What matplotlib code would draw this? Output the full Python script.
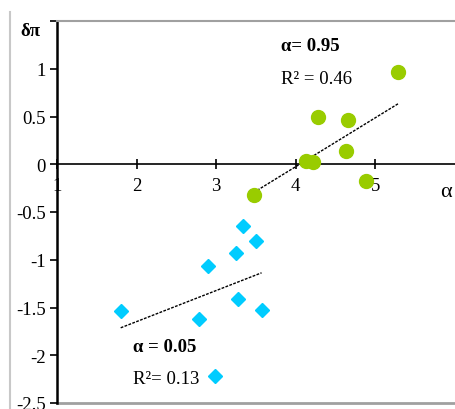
import numpy as np
import matplotlib
matplotlib.use("Agg")
import matplotlib.pyplot as plt
from matplotlib.lines import Line2D

# green group (alpha = 0.95)
green_x = [3.47, 4.13, 4.22, 4.28, 4.65, 4.63, 4.88, 5.29]
green_y = [-0.32, 0.03, 0.02, 0.50, 0.46, 0.14, -0.18, 0.97]

# blue group (alpha = 0.05)
blue_x = [1.80, 2.90, 2.78, 2.99, 3.34, 3.50, 3.25, 3.27, 3.57]
blue_y = [-1.54, -1.07, -1.62, -2.22, -0.65, -0.80, -0.93, -1.41, -1.53]

x_ticks = [1, 2, 3, 4, 5]
y_ticks = [-2.5, -2, -1.5, -1, -0.5, 0, 0.5, 1, 1.5]
y_labels = ["-2.5", "-2", "-1.5", "-1", "-0.5", "0", "0.5", "1", ""]

plt.rcParams["font.family"] = ["Liberation Serif", "DejaVu Serif"]

fig = plt.figure(figsize=(4.55, 4.10), dpi=100)
ax = fig.add_axes([57 / 455, 1 - 404 / 410, 1 - 57 / 455, (404 - 22) / 410])

ax.set_xlim(1, 6)
ax.set_ylim(-2.5, 1.5)

# trend lines (least squares, like the spreadsheet trendline)
for xs, ys in [(green_x, green_y), (blue_x, blue_y)]:
    k, b = np.polyfit(xs, ys, 1)
    xx = np.array([min(xs), max(xs)])
    ax.plot(xx, k * xx + b, color="black", lw=1.0, ls=(0, (2, 1)), zorder=2)

ax.plot(green_x, green_y, "o", color="#99CC00", markersize=10, mec="#99CC00", zorder=3)
ax.plot(blue_x, blue_y, "D", color="#00CCFF", markersize=7.5, mec="#00CCFF", zorder=3)

# axes styling
ax.spines["right"].set_visible(False)
ax.spines["top"].set_color("#a0a0a0")
ax.spines["top"].set_linewidth(1.5)
ax.spines["bottom"].set_position(("data", 0))
ax.spines["bottom"].set_linewidth(1.2)
ax.spines["left"].set_linewidth(1.8)
ax.axhline(-2.5, color="#a0a0a0", lw=2, clip_on=False, zorder=1)

ax.set_xticks(x_ticks)
ax.set_xticklabels([str(t) for t in x_ticks])
ax.set_yticks(y_ticks)
ax.set_yticklabels(y_labels)
ax.tick_params(axis="y", direction="out", length=5, width=1.2, pad=3, labelsize=13.5)
ax.tick_params(axis="x", direction="inout", length=7, width=1.2, pad=6, labelsize=13.5)

# axis names
fig.text(20 / 455, 1 - 32 / 410, "δπ", fontsize=13.5, fontweight="bold", va="center", ha="left")
fig.text(440 / 455, 1 - 193 / 410, "α", fontsize=16, va="center", ha="left")

# annotations
ax.text(3.81, 1.24, "α= 0.95", fontsize=13.5, fontweight="bold", va="center")
ax.text(3.81, 0.90, "R² = 0.46", fontsize=13.5, va="center")
ax.text(1.95, -1.91, "α = 0.05", fontsize=13.5, fontweight="bold", va="center")
ax.text(1.95, -2.24, "R²= 0.13", fontsize=13.5, va="center")

# outer chart border on the left
fig.add_artist(Line2D([10 / 455, 10 / 455], [0, 1 - 13 / 410], color="#c8c8c8", lw=1.5))

fig.savefig("out.png", dpi=100)
